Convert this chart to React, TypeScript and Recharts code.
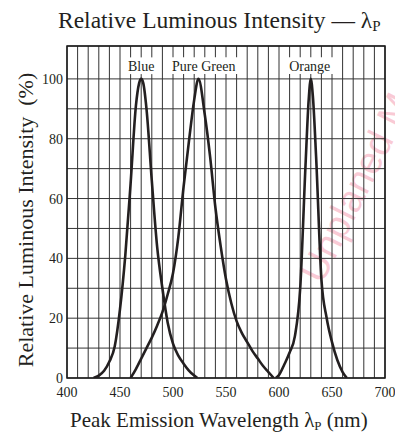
import React from "react";
import {
  CartesianGrid,
  Line,
  LineChart,
  ReferenceArea,
  XAxis,
  YAxis,
} from "recharts";

// wavelength (nm) vs relative intensity (%)
const blue = [
  { nm: 425, v: 0 },
  { nm: 430, v: 0.8 },
  { nm: 435, v: 2.4 },
  { nm: 440, v: 5.5 },
  { nm: 445, v: 10.5 },
  { nm: 450, v: 23 },
  { nm: 455, v: 41 },
  { nm: 460, v: 65 },
  { nm: 465, v: 91 },
  { nm: 468, v: 98.5 },
  { nm: 470, v: 100 },
  { nm: 472, v: 98.5 },
  { nm: 475, v: 90 },
  { nm: 480, v: 66 },
  { nm: 485, v: 44 },
  { nm: 490, v: 30 },
  { nm: 495, v: 18.5 },
  { nm: 500, v: 11.5 },
  { nm: 505, v: 7.5 },
  { nm: 510, v: 4.8 },
  { nm: 515, v: 2.5 },
  { nm: 520, v: 0.8 },
  { nm: 523, v: 0 },
];

const pureGreen = [
  { nm: 460, v: 0 },
  { nm: 465, v: 3 },
  { nm: 470, v: 6.5 },
  { nm: 475, v: 10 },
  { nm: 480, v: 13.5 },
  { nm: 485, v: 17.5 },
  { nm: 490, v: 22 },
  { nm: 495, v: 28 },
  { nm: 500, v: 35 },
  { nm: 505, v: 47 },
  { nm: 510, v: 64 },
  { nm: 515, v: 79 },
  { nm: 520, v: 93 },
  { nm: 524, v: 100 },
  { nm: 530, v: 88 },
  { nm: 535, v: 74 },
  { nm: 540, v: 57 },
  { nm: 545, v: 44 },
  { nm: 550, v: 33 },
  { nm: 555, v: 25 },
  { nm: 560, v: 19 },
  { nm: 565, v: 15 },
  { nm: 570, v: 12 },
  { nm: 575, v: 9 },
  { nm: 580, v: 6.5 },
  { nm: 585, v: 4 },
  { nm: 590, v: 2 },
  { nm: 595, v: 0 },
];

const orange = [
  { nm: 597, v: 0 },
  { nm: 600, v: 1 },
  { nm: 605, v: 4.5 },
  { nm: 610, v: 8.5 },
  { nm: 615, v: 14 },
  { nm: 620, v: 30 },
  { nm: 625, v: 71 },
  { nm: 628, v: 93 },
  { nm: 630, v: 100 },
  { nm: 632, v: 94 },
  { nm: 635, v: 74 },
  { nm: 640, v: 33 },
  { nm: 645, v: 20 },
  { nm: 650, v: 12 },
  { nm: 655, v: 6 },
  { nm: 660, v: 2 },
  { nm: 664, v: 0 },
];

const xTicks = [
  400, 410, 420, 430, 440, 450, 460, 470, 480, 490, 500, 510, 520, 530, 540,
  550, 560, 570, 580, 590, 600, 610, 620, 630, 640, 650, 660, 670, 680, 690,
  700,
];
const yTicks = [0, 10, 20, 30, 40, 50, 60, 70, 80, 90, 100];

const curveLabels = ["Blue", "Pure Green", "Orange"];
// label boxes in data units: [x1, x2]
const labelBoxes = [
  [457, 483],
  [495, 563],
  [606, 652],
];

const serif = "Liberation Serif, DejaVu Serif, Times New Roman, serif";
const ink = "#231f20";

export default function App() {
  return (
    <div
      style={{
        position: "absolute",
        left: 0,
        top: 0,
        width: 395,
        height: 432,
        background: "#fff",
        overflow: "hidden",
      }}
    >
      <svg
        width={395}
        height={432}
        style={{ position: "absolute", left: 0, top: 0 }}
      >
        <text
          x={322}
          y={285}
          transform="rotate(-63.6 322 285)"
          fontFamily="Liberation Sans, DejaVu Sans, Arial, sans-serif"
          fontSize={38}
          fill="#f7b9c8"
          fillOpacity={0.75}
        >
          Unplaned M
        </text>
      </svg>
      <div style={{ position: "absolute", left: 0, top: 0 }}>
        <LineChart
          width={395}
          height={432}
          margin={{ top: 46, right: 10, bottom: 24, left: 37 }}
        >
          <CartesianGrid stroke="#333" strokeWidth={1} />
          <XAxis
            type="number"
            dataKey="nm"
            domain={[400, 700]}
            ticks={xTicks}
            interval={0}
            height={30}
            tickLine={false}
            tickSize={0}
            axisLine={false}
            tickMargin={9}
            tickFormatter={(v: number) => (v % 50 === 0 ? String(v) : "")}
            tick={{ fontFamily: serif, fontSize: 14, fill: ink }}
            allowDataOverflow
          />
          <YAxis
            type="number"
            domain={[0, 111]}
            ticks={yTicks}
            interval={0}
            width={30}
            tickLine={false}
            tickSize={0}
            axisLine={false}
            tickMargin={4}
            tickFormatter={(v: number) => (v % 20 === 0 ? String(v) : "")}
            tick={{ fontFamily: serif, fontSize: 14, fill: ink }}
            allowDataOverflow
          />
          <ReferenceArea
            x1={400}
            x2={700}
            y1={0}
            y2={111}
            fill="none"
            stroke="#1a1a1a"
            strokeWidth={1.5}
          />
          {curveLabels.map((name, i) => (
            <ReferenceArea
              key={name}
              x1={labelBoxes[i][0]}
              x2={labelBoxes[i][1]}
              y1={101.6}
              y2={107.2}
              fill="#fff"
              fillOpacity={1}
              stroke="none"
              label={{
                value: name,
                position: "center",
                fontFamily: serif,
                fontSize: 14,
                fill: ink,
              }}
            />
          ))}
          <Line
            data={blue}
            dataKey="v"
            type="monotone"
            stroke={ink}
            strokeWidth={2.6}
            dot={false}
            isAnimationActive={false}
          />
          <Line
            data={pureGreen}
            dataKey="v"
            type="monotone"
            stroke={ink}
            strokeWidth={2.6}
            dot={false}
            isAnimationActive={false}
          />
          <Line
            data={orange}
            dataKey="v"
            type="monotone"
            stroke={ink}
            strokeWidth={2.6}
            dot={false}
            isAnimationActive={false}
          />
        </LineChart>
      </div>
      <svg
        width={395}
        height={432}
        style={{ position: "absolute", left: 0, top: 0, pointerEvents: "none" }}
      >
        <text x={58} y={28} fontFamily={serif} fontSize={23.5} fill={ink}>
          Relative Luminous Intensity — λ
          <tspan fontSize={15} dy={3}>
            P
          </tspan>
        </text>
        <text x={70} y={427} fontFamily={serif} fontSize={21} fill={ink}>
          Peak Emission Wavelength λ
          <tspan fontSize={13} dy={3}>
            P
          </tspan>
          <tspan dy={-3}> (nm)</tspan>
        </text>
        <text
          x={33}
          y={220}
          transform="rotate(-90 33 220)"
          textAnchor="middle"
          fontFamily={serif}
          fontSize={22}
          fill={ink}
          style={{ whiteSpace: "pre" }}
        >
          Relative Luminous Intensity  (%)
        </text>
      </svg>
    </div>
  );
}
